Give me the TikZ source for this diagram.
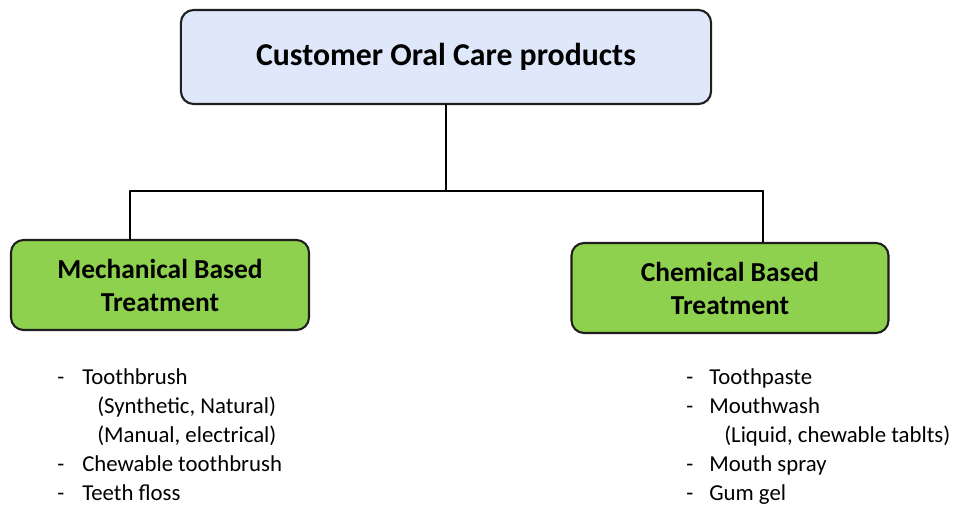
\documentclass[tikz,border=0pt]{standalone}
\usepackage{fontspec}
\setmainfont{Carlito}
\usepackage{array}
\definecolor{topblue}{HTML}{DEE8FA}
\definecolor{boxgreen}{HTML}{8ED14E}
\definecolor{edgegray}{HTML}{1E1E1E}
\begin{document}
\begin{tikzpicture}[x=0.025cm, y=-0.025cm, line join=round, line cap=round,
			box/.style={draw=edgegray, line width=1.5pt, rounded corners=9pt, align=center, inner sep=0pt},
			head/.style={box, fill=topblue, minimum width=13.25cm, minimum height=2.35cm, font=\bfseries\fontsize{22.6}{26}\selectfont},
			branch/.style={box, fill=boxgreen, minimum height=2.25cm, font=\bfseries\fontsize{19.5}{23.5}\selectfont},
			items/.style={anchor=base west, inner sep=0pt, font=\fontsize{16.2}{20.8}\selectfont},
			link/.style={line width=1.4pt, draw=black}
			]
			\useasboundingbox (0,0) rectangle (954,506);
			\node[head] (top) at (446,57) {Customer Oral Care products};
			\node[branch, minimum width=7.45cm] (mech) at (160,285) {Mechanical Based\\Treatment};
			\node[branch, minimum width=7.925cm] (chem) at (730,288) {Chemical Based\\Treatment};
			\coordinate (hub) at (446,191);
			\coordinate (lj) at (130,191);
			\coordinate (rj) at (763,191);
			\draw[link] (top.south) -- (hub);
			\draw[link] (lj) -- (rj);
			\draw[link] (lj) -- (lj |- mech.north);
			\draw[link] (rj) -- (rj |- chem.north);
			% item lists
			\node[items] (mechlist) at (57,384) {\begin{tabular}[t]{@{}p{0.625cm}@{}l@{}}
				- & Toothbrush\\
				& \hspace{0.375cm}(Synthetic, Natural)\\
				& \hspace{0.375cm}(Manual, electrical)\\
				- & Chewable toothbrush\\
				- & Teeth floss
			\end{tabular}};
			\node[items] (chemlist) at (686,384) {\begin{tabular}[t]{@{}p{0.575cm}@{}l@{}}
				- & Toothpaste\\
				- & Mouthwash\\
				& \hspace{0.375cm}(Liquid, chewable tablts)\\
				- & Mouth spray\\
				- & Gum gel
			\end{tabular}};
\end{tikzpicture}
\end{document}
